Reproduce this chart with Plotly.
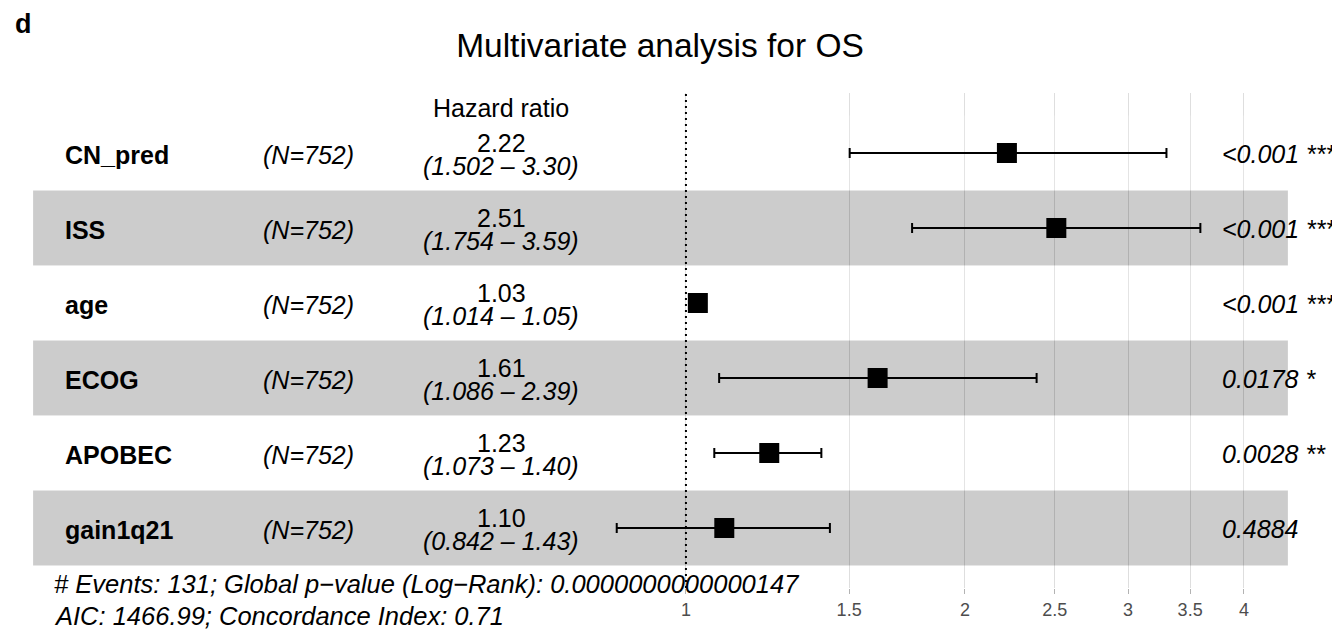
import numpy as np
import plotly.graph_objects as go

# ---- data -------------------------------------------------------------
variables = ["CN_pred", "ISS", "age", "ECOG", "APOBEC", "gain1q21"]
n_labels = ["(N=752)", "(N=752)", "(N=752)", "(N=752)", "(N=752)", "(N=752)"]
hazard_ratio = [2.22, 2.51, 1.03, 1.61, 1.23, 1.10]
ci_low = [1.502, 1.754, 1.014, 1.086, 1.073, 0.842]
ci_high = [3.30, 3.59, 1.05, 2.39, 1.40, 1.43]
p_labels = ["<0.001 ***", "<0.001 ***", "<0.001 ***", "0.0178 *", "0.0028 **", "0.4884"]
x_ticks = [1, 1.5, 2, 2.5, 3, 3.5, 4]
footer_lines = [
    "# Events: 131; Global p\u2212value (Log\u2212Rank): 0.0000000000000147",
    "AIC: 1466.99; Concordance Index: 0.71",
]
title_text = "Multivariate analysis for OS"
panel_tag = "d"

FONT = "Liberation Sans, Helvetica, Arial, sans-serif"
TXT = 25

W, H = 1332, 634
M_L, M_R, M_T, M_B = 8, 19, 93, 46

# rows from top (CN_pred) to bottom (gain1q21)
n = len(variables)
rows = list(range(n, 0, -1))

# plotting range on the hazard-ratio scale (natural-log based, like ggforest)
ln_lo = np.log(min(ci_low))
ln_hi = np.log(max(ci_high))
span = ln_hi - ln_lo
rp = np.array([ln_lo - span, ln_hi + 0.15 * span]) / np.log(10)  # log10 units
rp_w = rp[1] - rp[0]
x_range = [rp[0] - 0.02 * rp_w, rp[1] + 0.02 * rp_w]


def at(frac):
    """log10 x position at a fraction of the plotting range"""
    return rp[0] + frac * rp_w


fig = go.Figure()

# alternating row bands (shape coordinates on a log axis are data values)
for r in rows:
    fill = "rgba(0,0,0,0.2)" if r % 2 == 1 else "rgba(255,255,255,0.2)"
    fig.add_shape(type="rect", xref="x", yref="y",
                  x0=10 ** rp[0], x1=10 ** rp[1], y0=r - 0.5, y1=r + 0.5,
                  fillcolor=fill, line_width=0, layer="between")

# reference line at HR = 1
fig.add_shape(type="line", xref="x", yref="paper", x0=1, x1=1, y0=0, y1=1,
              line=dict(color="black", width=2, dash="2px,4px"), layer="above")

# point estimates with confidence intervals
fig.add_trace(go.Scatter(
    x=hazard_ratio, y=rows, mode="markers",
    marker=dict(symbol="square", size=20, color="black"),
    error_x=dict(type="data", symmetric=False,
                 array=[h - e for h, e in zip(ci_high, hazard_ratio)],
                 arrayminus=[e - l for e, l in zip(hazard_ratio, ci_low)],
                 color="black", thickness=2, width=5),
    hoverinfo="skip", showlegend=False,
))

ann = []
lab_x = at(0.024)
foot_x = at(0.015)
n_x = at(0.1815)
hr_x = at(0.373)
p_x = np.log10(max(ci_high))

for r, v, nl, h, lo, hi, p in zip(rows, variables, n_labels, hazard_ratio,
                                  ci_low, ci_high, p_labels):
    ann.append(dict(x=lab_x, y=r, text="<b>%s</b>" % v, xanchor="left",
                    yanchor="middle", yshift=-1.5,
                    font=dict(size=TXT, color="black", family=FONT)))
    ann.append(dict(x=n_x, y=r, text="<i>%s</i>" % nl, xanchor="left",
                    yanchor="middle", yshift=-1.5,
                    font=dict(size=TXT, color="black", family=FONT)))
    ann.append(dict(x=hr_x, y=r, text="%.2f" % h, xanchor="center",
                    yanchor="middle", yshift=10,
                    font=dict(size=TXT, color="black", family=FONT)))
    ann.append(dict(x=hr_x, y=r, text="<i>(%.3f \u2013 %.2f)</i>" % (lo, hi),
                    xanchor="center", yanchor="middle", yshift=-12.5,
                    font=dict(size=TXT, color="black", family=FONT)))
    ann.append(dict(x=p_x, y=r, text="<i>%s</i>" % p, xanchor="left",
                    yanchor="middle", yshift=-1, xshift=20,
                    font=dict(size=TXT, color="black", family=FONT)))

ann.append(dict(x=hr_x, y=n + 0.5, text="Hazard ratio", xanchor="center",
                yanchor="middle", yshift=7.5,
                font=dict(size=TXT, color="black", family=FONT)))

for i, line in enumerate(footer_lines):
    ann.append(dict(x=foot_x, y=0.5, text="<i>%s</i>" % line, xanchor="left",
                    yanchor="middle", yshift=-18 - 32 * i,
                    font=dict(size=25.5, color="black", family=FONT)))

for a in ann:
    a.update(xref="x", yref="y", showarrow=False)

# panel tag in the top-left corner of the figure
plot_w = W - M_L - M_R
plot_h = H - M_T - M_B
ann.append(dict(x=(13 - M_L) / plot_w, y=1 + (M_T - 24) / plot_h,
                xref="paper", yref="paper", xanchor="left", yanchor="middle",
                text="<b>%s</b>" % panel_tag, showarrow=False,
                font=dict(size=27, color="black", family=FONT)))

fig.update_layout(
    width=W, height=H,
    margin=dict(l=M_L, r=M_R, t=M_T, b=M_B),
    paper_bgcolor="white", plot_bgcolor="white",
    title=dict(text=title_text, x=660 / W, xref="container", xanchor="center",
               y=1 - 45.5 / H, yref="container", yanchor="middle",
               font=dict(size=33.5, color="black", family=FONT)),
    annotations=ann,
    xaxis=dict(type="log", range=x_range, tickvals=x_ticks,
               ticktext=["%g" % t for t in x_ticks],
               showgrid=True, gridcolor="#DEDEDE", gridwidth=1,
               zeroline=False, showline=False,
               ticks="outside", ticklen=5, tickcolor="#B3B3B3", tickwidth=1,
               tickfont=dict(size=18, color="#4D4D4D", family=FONT)),
    yaxis=dict(range=[0.2, n + 0.8], showgrid=False, zeroline=False,
               showticklabels=False, ticks="", showline=False, fixedrange=True),
)

fig.write_html("out.html")
